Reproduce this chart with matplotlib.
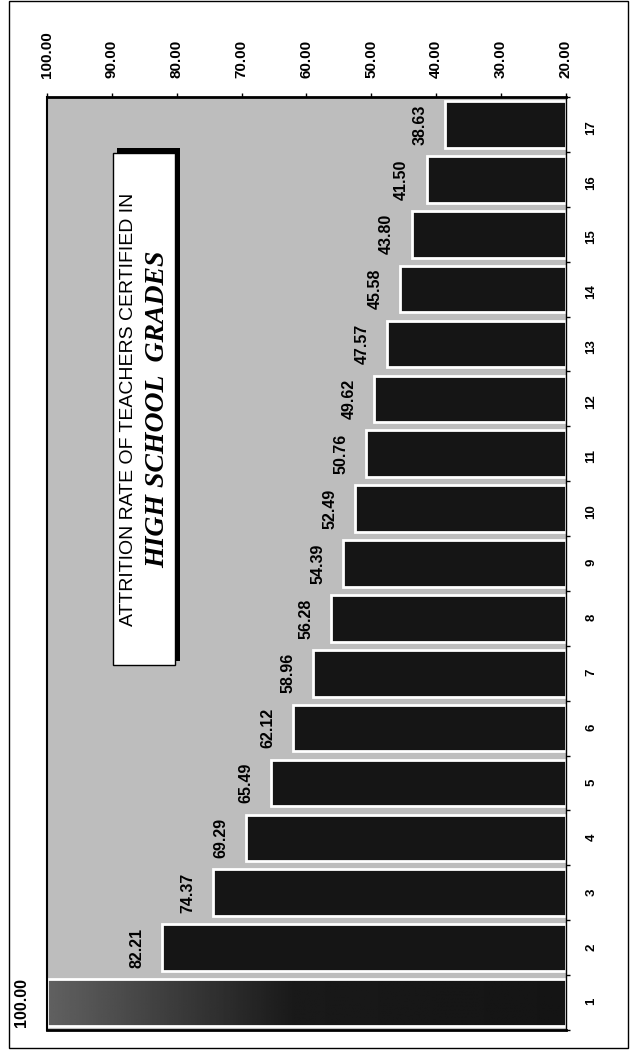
import numpy as np
import matplotlib
matplotlib.use("Agg")
import matplotlib.pyplot as plt
from matplotlib.patches import Rectangle

# attrition rate by year of service
categories = list(range(1, 18))
values = [100.00, 82.21, 74.37, 69.29, 65.49, 62.12, 58.96, 56.28, 54.39,
          52.49, 50.76, 49.62, 47.57, 45.58, 43.80, 41.50, 38.63]
value_ticks = [20, 30, 40, 50, 60, 70, 80, 90, 100]
baseline = 20

W, H = 631, 1055
plt.rcParams['font.family'] = ['Liberation Sans', 'DejaVu Sans']

fig = plt.figure(figsize=(W / 100, H / 100), dpi=100)
fig.patch.set_facecolor('white')

# page frame
fig.add_artist(Rectangle((9 / W, 1 - 1048 / H), 619 / W, 1047 / H,
                         transform=fig.transFigure, fill=False,
                         ec='black', lw=1))

ax = fig.add_axes([47 / W, 1 - 1030 / H, (566 - 47) / W, (1030 - 97) / H])
ax.set_facecolor('#bdbdbd')

bars = ax.barh(categories, [v - baseline for v in values], left=baseline,
               height=0.85, color='#151515', edgecolor='white', linewidth=2)

# first bar fades from grey to black
first = bars[0]
first.set_facecolor('none')
xs = np.linspace(100, 20, 300)
shade = np.interp(xs, [20, 62, 100], [0.08, 0.10, 0.38])
im = ax.imshow(shade[np.newaxis, :], cmap='gray', vmin=0, vmax=1,
               extent=(100, 20, 1 - 0.425, 1 + 0.425), aspect='auto',
               interpolation='bilinear', zorder=0.9)
im.set_clip_path(first)

ax.set_xlim(100, 20)
ax.set_ylim(0.5, 17.5)

for v, c in zip(values, categories):
    ax.annotate(f'{v:.2f}', xy=(v, c), xytext=(-18, 0),
                textcoords='offset points', ha='center', va='center',
                rotation=90, fontsize=11.5, fontweight='bold',
                annotation_clip=False)

# value axis on top
ax.xaxis.tick_top()
ax.set_xticks(value_ticks)
ax.set_xticklabels([f'{t:.2f}' for t in value_ticks], rotation=90,
                   fontsize=11, fontweight='bold')
ax.tick_params(axis='x', direction='out', length=3, width=1, pad=11)

# category axis on the right
bounds = np.arange(0.5, 17.6, 1)
ax.set_yticks(bounds, labels=[''] * len(bounds))
ax.set_yticks(categories, labels=[str(c) for c in categories], minor=True)
ax.tick_params(axis='y', which='both', left=False, labelleft=False,
               right=True, labelright=True)
ax.tick_params(axis='y', which='major', direction='out', length=3, width=1)
ax.tick_params(axis='y', which='minor', length=0, pad=14, labelsize=9.5,
               labelrotation=90)
for lab in ax.get_yticklabels(minor=True):
    lab.set_fontweight('bold')

ax.spines['top'].set_linewidth(2)
ax.spines['bottom'].set_linewidth(2)
ax.spines['left'].set_linewidth(1.5)
ax.spines['right'].set_linewidth(1)

# title box with drop shadow
fig.add_artist(Rectangle((117 / W, 1 - 661 / H), 63 / W, 513 / H,
                         transform=fig.transFigure, fc='black', ec='none',
                         zorder=5))
fig.add_artist(Rectangle((113 / W, 1 - 665 / H), 62 / W, 512 / H,
                         transform=fig.transFigure, fc='white', ec='black',
                         lw=1, zorder=6))
fig.text(128.5 / W, 1 - 409 / H, 'ATTRITION RATE OF TEACHERS CERTIFIED IN',
         rotation=90, ha='center', va='center', fontsize=14, zorder=7)
fig.text(157.5 / W, 1 - 409 / H, 'HIGH SCHOOL  GRADES', rotation=90,
         ha='center', va='center', fontsize=20, fontweight='bold',
         fontstyle='italic', family=['Liberation Serif', 'DejaVu Serif'],
         zorder=7)

fig.savefig('out.png', dpi=100)
